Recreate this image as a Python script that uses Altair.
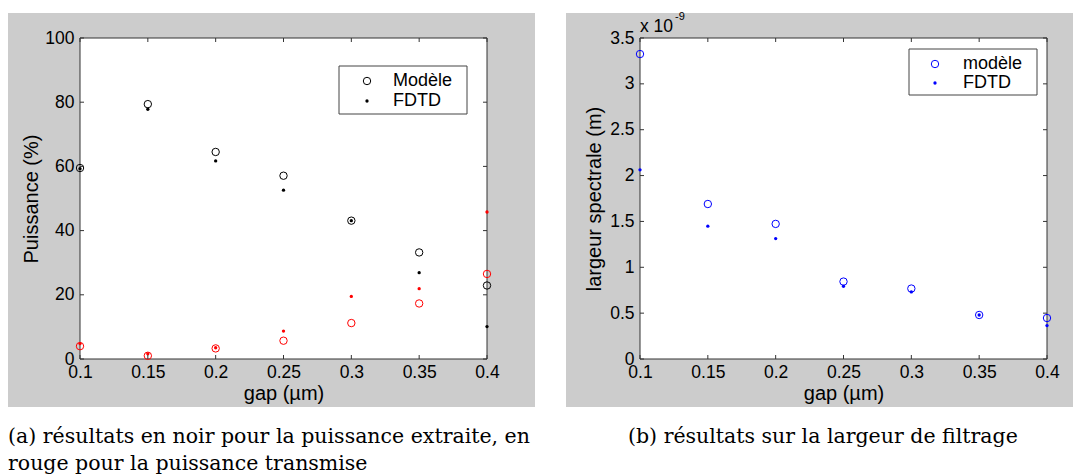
import altair as alt
import pandas as pd

# ---------------- data ----------------
gap = [0.1, 0.15, 0.2, 0.25, 0.3, 0.35, 0.4]

# (a) puissance (%)
extraite_modele = [59.5, 79.4, 64.5, 57.1, 43.1, 33.2, 22.9]
extraite_fdtd = [59.3, 77.8, 61.7, 52.6, 43.1, 26.9, 10.1]
transmise_modele = [4.0, 1.0, 3.3, 5.7, 11.2, 17.3, 26.5]
transmise_fdtd = [4.8, 1.6, 3.5, 8.7, 19.5, 21.9, 45.8]

# (b) largeur spectrale, in units of 1e-9 m
largeur_modele = [3.325, 1.69, 1.473, 0.844, 0.768, 0.48, 0.447]
largeur_fdtd = [2.063, 1.448, 1.313, 0.793, 0.731, 0.48, 0.364]

x_ticks = [0.1, 0.15, 0.2, 0.25, 0.3, 0.35, 0.4]
ya_ticks = [0, 20, 40, 60, 80, 100]
yb_ticks = [0, 0.5, 1, 1.5, 2, 2.5, 3, 3.5]

legend_a = ["Modèle", "FDTD"]
legend_b = ["modèle", "FDTD"]
caption_a = ["(a) résultats en noir pour la puissance extraite, en",
             "rouge pour la puissance transmise"]
caption_b = ["(b) résultats sur la largeur de filtrage"]

# ---------------- styling ----------------
W, H = 407, 321
GRAY = "#cccccc"
FRAME = "#333333"
SANS = "Liberation Sans"
SERIF = "DejaVu Serif"
TICK = 4
LABEL_FS = 17.5
TITLE_FS = 20


def series(y):
    return pd.DataFrame({"gap": gap, "val": y})


one = pd.DataFrame({"k": [0]})


def xenc():
    return alt.X("gap:Q",
                 scale=alt.Scale(domain=[0.1, 0.4], nice=False, zero=False),
                 axis=alt.Axis(values=x_ticks, format="~f", domain=False, ticks=False,
                               tickSize=0, grid=False, labelFontSize=LABEL_FS, labelFont=SANS,
                               labelColor="black", labelPadding=4, labelFlush=False,
                               labelOverlap=False, labelBound=False,
                               title="gap (µm)", titleFont=SANS, titleFontSize=TITLE_FS,
                               titleFontWeight="normal", titleColor="black",
                               titlePadding=3, zindex=1))


def yenc(domain, ticks, title, tpad):
    return alt.Y("val:Q",
                 scale=alt.Scale(domain=domain, nice=False, zero=False),
                 axis=alt.Axis(values=ticks, format="~f", domain=False, ticks=False,
                               tickSize=0, grid=False, labelFontSize=LABEL_FS, labelFont=SANS,
                               labelColor="black", labelPadding=6, labelFlush=False,
                               labelOverlap=False, labelBound=False,
                               title=title, titleFont=SANS, titleFontSize=TITLE_FS,
                               titleFontWeight="normal", titleColor="black",
                               titlePadding=tpad, zindex=1))


def panel(domain, yticks, ytitle, tpad, pts, legend_labels, legend_colors, leg_box,
          captions, cap_x, gray_box, extra=None):
    gx0, gx1, gy0, gy1 = gray_box
    X = xenc()
    Y = yenc(domain, yticks, ytitle, tpad)
    bg = alt.Chart(one).mark_rect(fill=GRAY, stroke=None).encode(
        x=alt.value(gx0), x2=alt.value(gx1), y=alt.value(gy0), y2=alt.value(gy1))
    plot_bg = alt.Chart(one).mark_rect(fill="white", stroke=FRAME, strokeWidth=1).encode(
        x=alt.value(0), x2=alt.value(W), y=alt.value(0), y2=alt.value(H))

    xt = pd.DataFrame({"gap": x_ticks})
    yt = pd.DataFrame({"val": yticks})
    tick_layers = [
        alt.Chart(xt).mark_rule(color=FRAME, strokeWidth=1).encode(
            x=X, y=alt.value(H), y2=alt.value(H - TICK)),
        alt.Chart(xt).mark_rule(color=FRAME, strokeWidth=1).encode(
            x=X, y=alt.value(0), y2=alt.value(TICK)),
        alt.Chart(yt).mark_rule(color=FRAME, strokeWidth=1).encode(
            y=Y, x=alt.value(0), x2=alt.value(TICK)),
        alt.Chart(yt).mark_rule(color=FRAME, strokeWidth=1).encode(
            y=Y, x=alt.value(W), x2=alt.value(W - TICK)),
    ]

    point_layers = []
    for vals, color, kind in pts:
        base = alt.Chart(series(vals))
        if kind == "o":
            m = base.mark_point(shape="circle", filled=False, size=55, strokeWidth=1,
                                color=color, opacity=1)
        else:
            m = base.mark_circle(size=11, color=color, opacity=1)
        point_layers.append(m.encode(x=X, y=Y))

    lx0, lx1, ly0, ly1, sym_x, txt_x, row_y = leg_box
    leg_rect = alt.Chart(one).mark_rect(fill="white", stroke="#444444", strokeWidth=1).encode(
        x=alt.value(lx0), x2=alt.value(lx1), y=alt.value(ly0), y2=alt.value(ly1))
    leg_o = alt.Chart(one).mark_point(shape="circle", filled=False, size=55, strokeWidth=1,
                                      color=legend_colors, opacity=1).encode(
        x=alt.value(sym_x), y=alt.value(row_y[0]))
    leg_d = alt.Chart(one).mark_circle(size=11, color=legend_colors, opacity=1).encode(
        x=alt.value(sym_x), y=alt.value(row_y[1]))
    leg_txt = [
        alt.Chart(one).mark_text(text=legend_labels[j], font=SANS, fontSize=18, align="left",
                                 baseline="middle", color="black").encode(
            x=alt.value(txt_x), y=alt.value(row_y[j]))
        for j in range(2)
    ]

    cap_layers = [
        alt.Chart(one).mark_text(text=c, font=SERIF, fontSize=20.5, align="left",
                                 baseline="middle", color="black").encode(
            x=alt.value(cap_x), y=alt.value(399 + 27 * j))
        for j, c in enumerate(captions)
    ]

    layers = [bg, plot_bg] + point_layers + tick_layers + [leg_rect, leg_o, leg_d] + leg_txt + cap_layers
    if extra:
        layers += extra
    return alt.layer(*layers).properties(width=W, height=H)


left = panel([0, 100], ya_ticks, "Puissance (%)", 3,
             [(extraite_modele, "black", "o"), (extraite_fdtd, "black", "."),
              (transmise_modele, "#ff0000", "o"), (transmise_fdtd, "#ff0000", ".")],
             legend_a, "black", (259, 387, 28, 76, 287, 313, [43, 63]),
             caption_a, -72, (-72, 455, -25, 369))

exponent = [
    alt.Chart(one).mark_text(text="x 10", font=SANS, fontSize=17.5, align="left",
                             baseline="middle", color="black").encode(
        x=alt.value(0), y=alt.value(-11)),
    alt.Chart(one).mark_text(text="-9", font=SANS, fontSize=11, align="left",
                             baseline="middle", color="black").encode(
        x=alt.value(35), y=alt.value(-21)),
]

right = panel([0, 3.5], yb_ticks, "largeur spectrale (m)", 5,
              [(largeur_modele, "#0000ff", "o"), (largeur_fdtd, "#0000ff", ".")],
              legend_b, "#0000ff", (269, 397, 11, 57, 295, 323, [26, 45]),
              caption_b, -12, (-74, 433, -25, 369), extra=exponent)

chart = alt.hconcat(left, right, spacing=153, bounds="flush").properties(
    padding={"top": 3, "left": 0, "right": 0, "bottom": 0},
    background="white",
).configure_view(stroke=None)

chart.save("out.html", embed_options={"renderer": "svg", "actions": False})
